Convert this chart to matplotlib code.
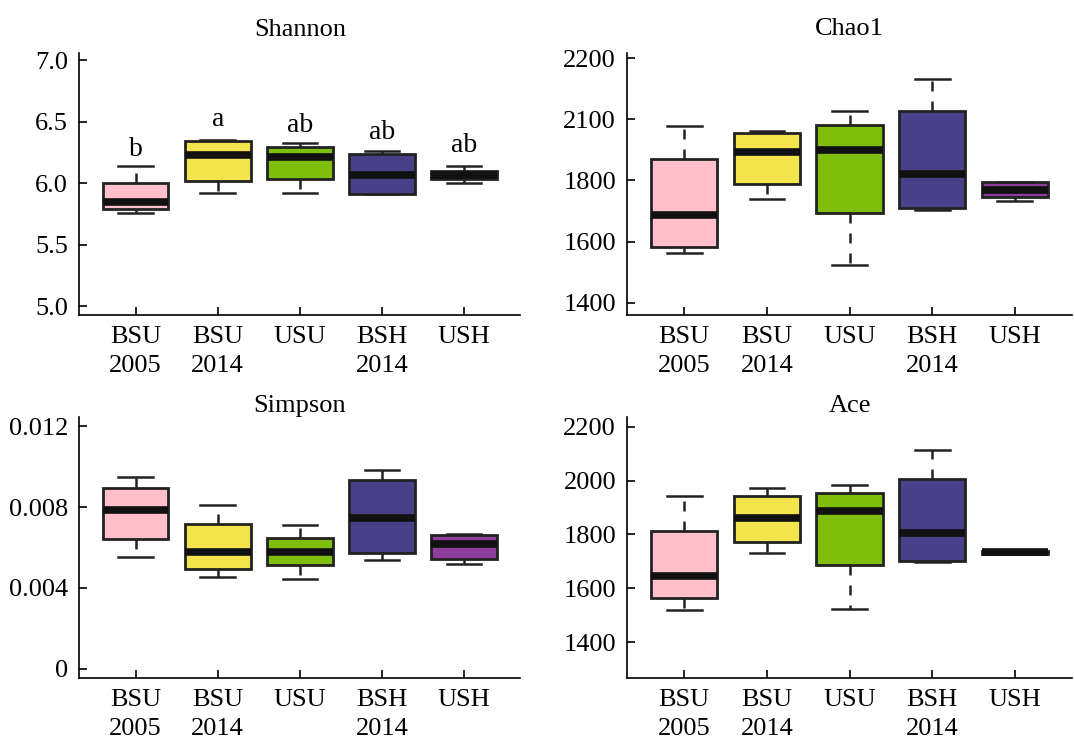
import matplotlib
matplotlib.use("Agg")
import matplotlib.pyplot as plt

plt.rcParams['font.family'] = ['Liberation Serif', 'DejaVu Serif']

groups = ["BSU\n2005", "BSU\n2014", "USU", "BSH\n2014", "USH"]
colors = ["#FFC0CC", "#F2E44C", "#7FBE0C", "#48418A", "#8E3D9C"]

# whisker low, q1, median, q3, whisker high
shannon = [
    [5.76, 5.79, 5.85, 6.00, 6.14],
    [5.92, 6.02, 6.23, 6.34, 6.35],
    [5.92, 6.03, 6.21, 6.29, 6.33],
    [5.91, 5.91, 6.065, 6.24, 6.26],
    [6.00, 6.03, 6.07, 6.10, 6.14],
]
shannon_letters = ["b", "a", "ab", "ab", "ab"]
shannon_letter_y = [6.27, 6.52, 6.47, 6.41, 6.31]

chao1 = [
    [1562, 1583, 1686, 1870, 1977],
    [1741, 1790, 1892, 1956, 1963],
    [1523, 1694, 1899, 1980, 2026],
    [1703, 1710, 1822, 2027, 2130],
    [1732, 1747, 1768, 1794, 1795],
]
chao1_ticks = [1400, 1600, 1800, 2000, 2200]
chao1_ticklabels = ["1400", "1600", "1800", "2100", "2200"]

simpson = [
    [0.00555, 0.00641, 0.00783, 0.00896, 0.00949],
    [0.00456, 0.00493, 0.00580, 0.00717, 0.00808],
    [0.00443, 0.00512, 0.00580, 0.00648, 0.00709],
    [0.00536, 0.00572, 0.00745, 0.00932, 0.00982],
    [0.00516, 0.00544, 0.00618, 0.00663, 0.00668],
]
simpson_ticks = [0, 0.004, 0.008, 0.012]
simpson_ticklabels = ["0", "0.004", "0.008", "0.012"]

ace = [
    [1519, 1563, 1647, 1814, 1942],
    [1732, 1770, 1860, 1942, 1973],
    [1524, 1686, 1888, 1955, 1985],
    [1696, 1703, 1805, 2004, 2112],
    [1730, 1729, 1733, 1737, 1736],
]
ace_ticks = [1400, 1600, 1800, 2000, 2200]


def draw(ax, data, title, ylim, ticks, ticklabels, pad):
    stats = []
    for g, (lo, q1, med, q3, hi) in zip(groups, data):
        stats.append(dict(label=g, whislo=lo, q1=q1, med=med, q3=q3, whishi=hi, fliers=[]))
    bp = ax.bxp(stats, positions=range(1, 6), widths=0.8, capwidths=0.42,
                patch_artist=True, showfliers=False,
                boxprops=dict(linewidth=2.0, edgecolor="#222222"),
                medianprops=dict(linewidth=5.5, color="#111111", solid_capstyle="butt"),
                whiskerprops=dict(linewidth=1.8, color="#222222", linestyle=(0, (4, 4))),
                capprops=dict(linewidth=1.8, color="#222222"))
    for patch, c in zip(bp["boxes"], colors):
        patch.set_facecolor(c)
    ax.set_xlim(0.31, 5.69)
    ax.set_ylim(*ylim)
    ax.set_yticks(ticks)
    ax.set_yticklabels(ticklabels)
    ax.spines["top"].set_visible(False)
    ax.spines["right"].set_visible(False)
    for s in ("left", "bottom"):
        ax.spines[s].set_linewidth(1.2)
    ax.tick_params(direction="in", length=6, width=1.2, labelsize=19, pad=8)
    for t in ax.get_xticklabels():
        t.set_linespacing(1.4)
    ax.set_title(title, fontsize=19, pad=pad)


fig = plt.figure(figsize=(10.74, 7.38), dpi=100)
ax1 = fig.add_axes([0.0736, 0.573, 0.411, 0.355])
ax2 = fig.add_axes([0.584, 0.573, 0.414, 0.355])
ax3 = fig.add_axes([0.0736, 0.0813, 0.411, 0.354])
ax4 = fig.add_axes([0.584, 0.0813, 0.414, 0.353])

draw(ax1, shannon, "Shannon", (4.927, 7.057), [5.0, 5.5, 6.0, 6.5, 7.0],
     ["5.0", "5.5", "6.0", "6.5", "7.0"], 12)
for i, (lt, ly) in enumerate(zip(shannon_letters, shannon_letter_y)):
    ax1.text(i + 1, ly, lt, ha="center", va="center", fontsize=20)

draw(ax2, chao1, "Chao1", (1360, 2216), chao1_ticks, chao1_ticklabels, 13)
draw(ax3, simpson, "Simpson", (-0.00045, 0.01246), simpson_ticks, simpson_ticklabels, 3)
draw(ax4, ace, "Ace", (1267, 2234), ace_ticks, [str(t) for t in ace_ticks], 3)

fig.savefig("out.png", dpi=100)
